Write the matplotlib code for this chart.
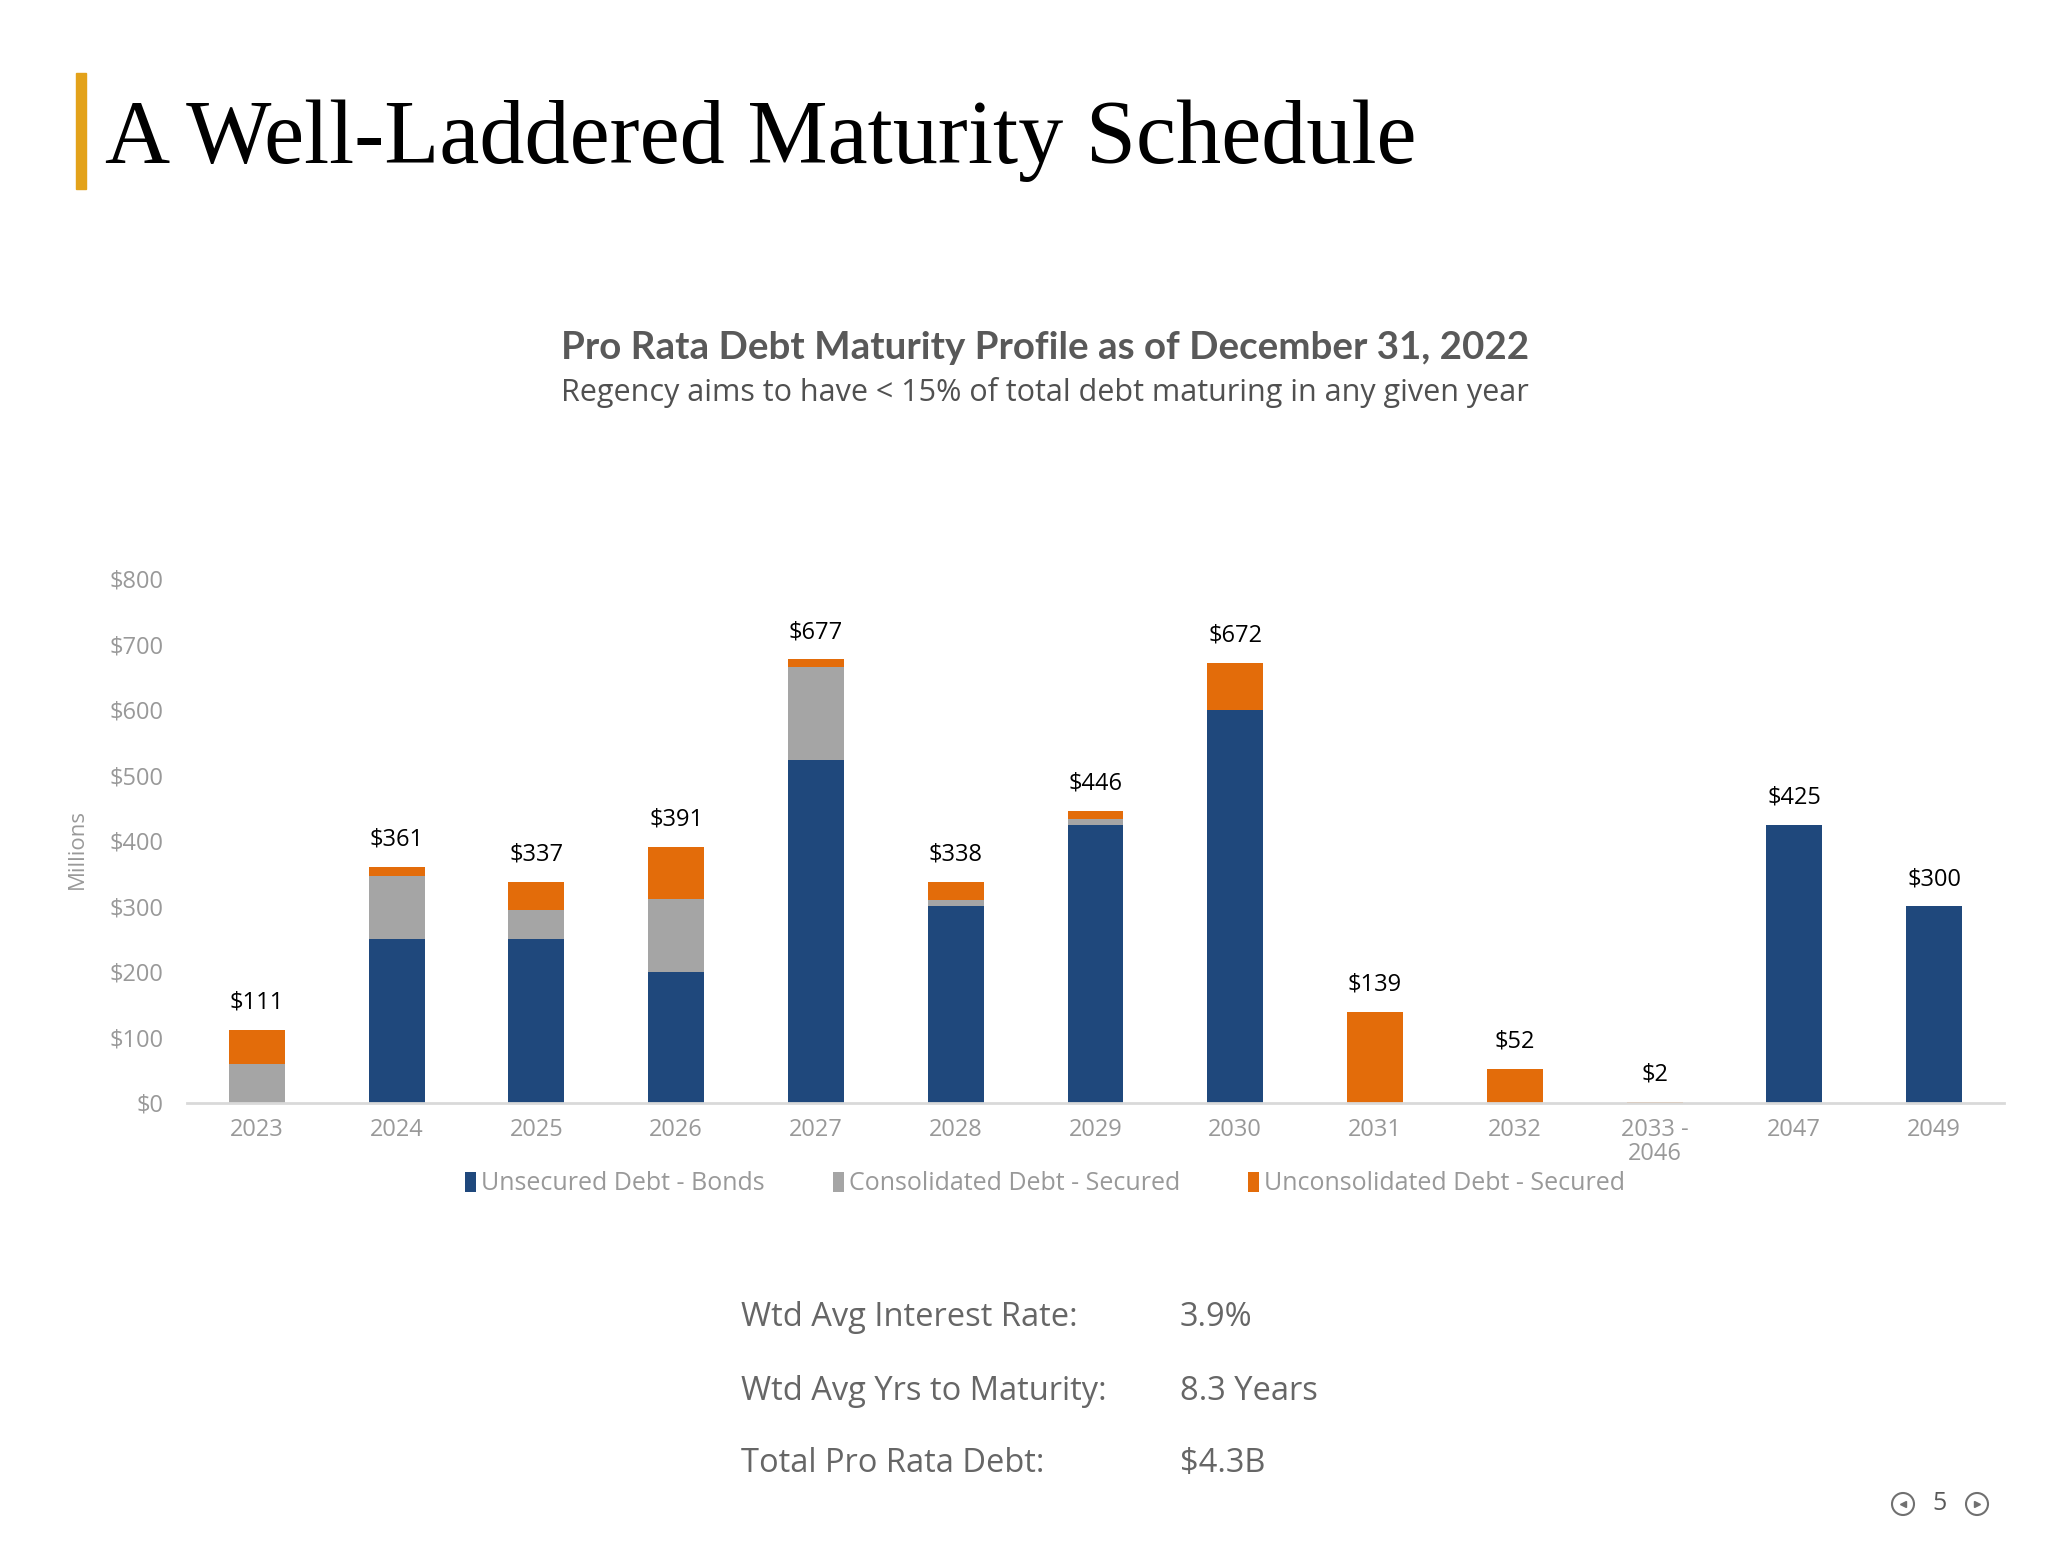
import matplotlib
matplotlib.use("Agg")
import matplotlib.pyplot as plt
import numpy as np
from matplotlib.patches import Ellipse, Rectangle
from matplotlib.lines import Line2D

years = ["2023", "2024", "2025", "2026", "2027", "2028", "2029", "2030",
         "2031", "2032", "2033 -\n2046", "2047", "2049"]
unsecured = [0, 250, 250, 200, 524, 300, 425, 600, 0, 0, 0, 425, 300]
consolidated = [60, 97, 44, 112, 142, 10, 9, 0, 0, 0, 0, 0, 0]
unconsolidated = [51, 14, 43, 79, 11, 28, 12, 72, 139, 52, 2, 0, 0]
totals = [111, 361, 337, 391, 677, 338, 446, 672, 139, 52, 2, 425, 300]

stat_names = ["Wtd Avg Interest Rate:", "Wtd Avg Yrs to Maturity:", "Total Pro Rata Debt:"]
stat_values = ["3.9%", "8.3 Years", "$4.3B"]

BLUE = "#1F487C"
GRAY = "#A5A5A5"
ORANGE = "#E36C0A"
TICK = "#999999"

plt.rcParams['font.family'] = ['Open Sans', 'DejaVu Sans']

fig = plt.figure(figsize=(20.66, 15.5), dpi=100)
ax = fig.add_axes([0.0905, 0.2884, 0.8795, 0.3381])

x = np.arange(len(years))
w = 0.4
ax.bar(x, unsecured, w, color=BLUE, label="Unsecured Debt - Bonds")
ax.bar(x, consolidated, w, bottom=unsecured, color=GRAY, label="Consolidated Debt - Secured")
bot2 = np.array(unsecured) + np.array(consolidated)
ax.bar(x, unconsolidated, w, bottom=bot2, color=ORANGE, label="Unconsolidated Debt - Secured")

for i, t in enumerate(totals):
    ax.annotate(f"${t}", (x[i], t), xytext=(0, 11), textcoords="offset points",
                ha="center", va="bottom", fontsize=17, color="black")

ax.set_xlim(-0.5, 12.5)
ax.set_ylim(0, 800)
ax.set_yticks(range(0, 801, 100))
ax.set_yticklabels([f"${v}" for v in range(0, 801, 100)])
ax.set_xticks(x)
ax.set_xticklabels(years, linespacing=1.0)
ax.tick_params(axis="y", length=0, pad=17, labelsize=17, labelcolor=TICK)
ax.tick_params(axis="x", length=0, pad=11, labelsize=17, labelcolor=TICK)
for s in ["top", "right", "left"]:
    ax.spines[s].set_visible(False)
ax.spines["bottom"].set_color("#D9D9D9")
ax.spines["bottom"].set_linewidth(2)

fig.text(77 / 2066, 1 - 849 / 1550, "Millions", rotation=90, ha="center", va="center",
         fontsize=16, color=TICK)

handles, labels = ax.get_legend_handles_labels()
leg = fig.legend(handles, labels, loc="center", bbox_to_anchor=(1045 / 2066, 1 - 1184 / 1550),
                 ncol=3, frameon=False, fontsize=18, handlelength=0.45, handleheight=0.85,
                 handletextpad=0.2, columnspacing=2.7)
for t in leg.get_texts():
    t.set_color(TICK)

# slide title and accent bar
fig.add_artist(Rectangle((76 / 2066, 1 - 189 / 1550), 10 / 2066, 116 / 1550,
                         transform=fig.transFigure, color="#E3A21A"))
fig.text(105 / 2066, 1 - 163 / 1550, "A Well-Laddered Maturity Schedule",
         family="Liberation Serif", fontsize=65, color="black", va="baseline")

fig.text(1045 / 2066, 1 - 348 / 1550, "Pro Rata Debt Maturity Profile as of December 31, 2022",
         ha="center", va="center", fontsize=27.7, fontweight="bold", color="#595959",
         family=["Lato", "DejaVu Sans"])
fig.text(1045 / 2066, 1 - 392 / 1550, "Regency aims to have < 15% of total debt maturing in any given year",
         ha="center", va="center", fontsize=22, color="#505050")

rows_y = [1317, 1391, 1464]
for name, val, yy in zip(stat_names, stat_values, rows_y):
    fig.text(741 / 2066, 1 - yy / 1550, name, ha="left", va="center", fontsize=23.5, color="#666666")
    fig.text(1180 / 2066, 1 - yy / 1550, val, ha="left", va="center", fontsize=23.5, color="#666666")

# page navigation
ny = 1 - 1504 / 1550
for cx, mk in [(1903, "<"), (1977, ">")]:
    fig.add_artist(Ellipse((cx / 2066, ny), 22 / 2066, 22 / 1550, transform=fig.transFigure,
                           fill=False, edgecolor="#707070", linewidth=1.5))
    fig.add_artist(Line2D([cx / 2066], [ny], marker=mk, markersize=5, color="#707070",
                          transform=fig.transFigure))
fig.text(1940 / 2066, ny, "5", ha="center", va="center", fontsize=18, color="#595959")

fig.savefig("out.png", dpi=100)
